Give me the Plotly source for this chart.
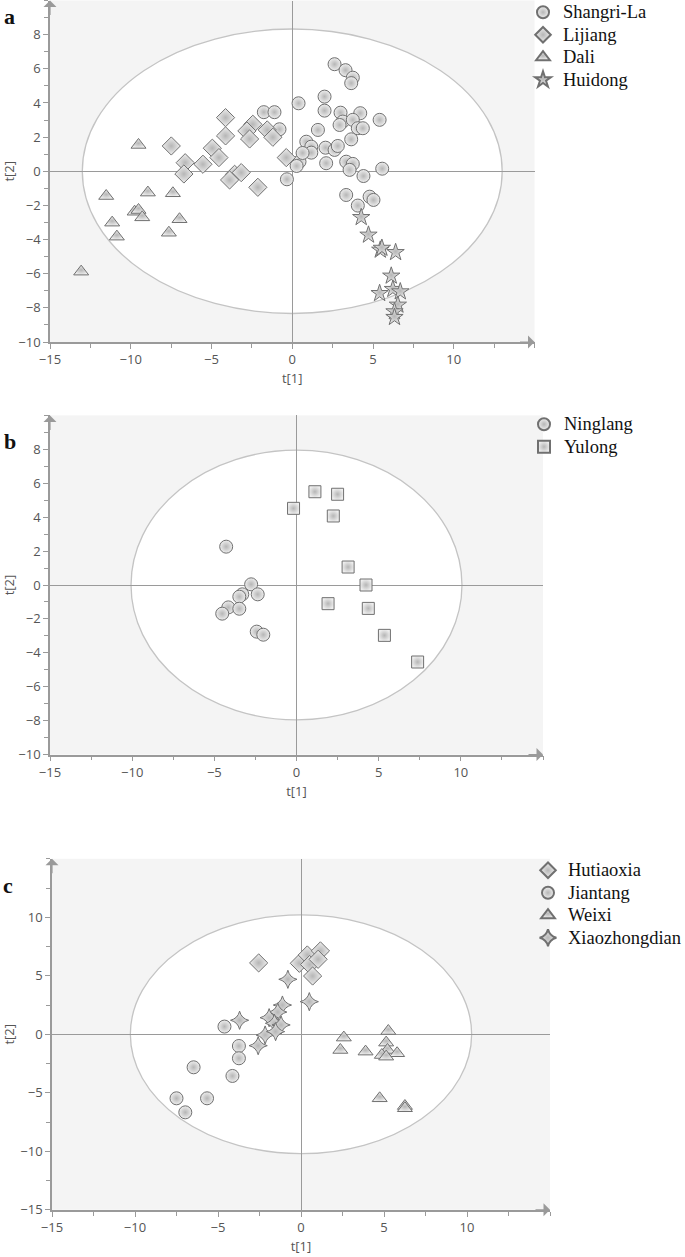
import plotly.graph_objects as go

# ---------------- Panel a data ----------------
shangri_x = [2.62, 3.30, 3.75, 3.65, 2.00, 0.39, -1.76, -1.10, 2.00, 2.99, 4.21, 5.41, 3.13, 3.75,
             4.06, 2.93, 3.65, 1.59, -0.79, 0.87, 1.18, 1.18, 2.06, 2.62, 2.82, 4.37, 0.45, 0.27,
             2.10, 3.34, 3.75, 3.55, 4.41, 5.57, -0.33, 3.34, 4.79, 5.03, 4.06, 0.64]
shangri_y = [6.27, 5.92, 5.48, 5.16, 4.37, 3.98, 3.46, 3.46, 3.55, 3.43, 3.40, 3.01, 2.91, 3.01,
             2.52, 2.71, 1.87, 2.42, 2.46, 1.73, 1.44, 1.09, 1.38, 1.25, 1.48, 2.52, 0.56, 0.31,
             0.47, 0.56, 0.43, 0.08, -0.28, 0.15, -0.47, -1.39, -1.49, -1.68, -2.01, 1.07]
lijiang_x = [-4.13, -4.13, -7.49, -4.95, -4.54, -5.53, -6.63, -6.71, -2.44, -2.81, -2.64, -1.55,
             -1.20, -0.37, -3.57, -3.16, -3.88, -2.13]
lijiang_y = [3.14, 2.07, 1.48, 1.35, 0.80, 0.41, 0.50, -0.16, 2.75, 2.36, 1.89, 2.42,
             1.99, 0.80, -0.18, -0.08, -0.51, -0.94]
dali_x = [-9.52, -11.52, -8.94, -7.39, -9.76, -9.52, -9.29, -11.15, -10.86, -6.98, -7.64, -13.07]
dali_y = [1.54, -1.45, -1.25, -1.29, -2.37, -2.27, -2.70, -3.01, -3.83, -2.81, -3.60, -5.88]
huidong_x = [4.27, 4.72, 5.45, 5.55, 6.40, 6.13, 5.41, 6.23, 6.69, 6.54, 6.33, 6.33]
huidong_y = [-2.70, -3.73, -4.61, -4.50, -4.75, -6.13, -7.15, -6.91, -7.05, -7.83, -8.22, -8.55]

# ---------------- Panel b data ----------------
ninglang_x = [-4.28, -2.76, -2.36, -3.30, -3.48, -4.15, -3.48, -4.52, -2.42, -2.02]
ninglang_y = [2.26, 0.04, -0.55, -0.55, -0.69, -1.32, -1.40, -1.69, -2.75, -2.93]
yulong_x = [-0.18, 1.12, 2.50, 2.24, 3.14, 4.23, 1.92, 4.37, 5.35, 7.37]
yulong_y = [4.52, 5.50, 5.35, 4.07, 1.06, 0.00, -1.10, -1.38, -2.97, -4.54]

# ---------------- Panel c data ----------------
hutiaoxia_x = [-2.55, -0.10, 0.38, 0.52, 1.17, 1.03, 0.70]
hutiaoxia_y = [6.10, 6.07, 6.78, 5.96, 7.13, 6.41, 4.98]
jiantang_x = [-4.61, -3.74, -3.74, -6.47, -4.13, -7.50, -5.66, -6.97]
jiantang_y = [0.66, -1.00, -2.05, -2.82, -3.56, -5.47, -5.47, -6.67]
weixi_x = [2.58, 5.26, 2.37, 3.89, 5.13, 5.21, 5.79, 4.87, 5.13, 4.74, 6.26, 6.26]
weixi_y = [-0.28, 0.28, -1.34, -1.48, -0.71, -1.34, -1.62, -1.77, -1.91, -5.47, -6.13, -6.32]
xzd_x = [-0.79, 0.50, -1.12, -1.40, -1.92, -1.60, -1.20, -3.70, -2.16, -1.53, -2.58]
xzd_y = [4.70, 2.79, 2.50, 1.90, 1.42, 0.94, 0.80, 1.20, -0.06, 0.23, -0.97]

# ellipse radii (Hotelling T2)
ell_a = (13.0, 8.33)
ell_b = (10.07, 7.95)
ell_c = (10.28, 10.2)

FILL = "#eeeeee"
EDGE = "#707070"
GRAD = "#b6b6b6"


def mk(symbol, size):
    return dict(symbol=symbol, size=size, color=FILL,
                gradient=dict(type="radial", color=GRAD),
                line=dict(color=EDGE, width=1))


def legname(s):
    return '<span style="font-size:18.5px">%s</span>' % s


fig = go.Figure()
series = [
    ("Shangri-La", shangri_x, shangri_y, "circle", 13, "x", "y", "legend"),
    ("Lijiang", lijiang_x, lijiang_y, "diamond", 14, "x", "y", "legend"),
    ("Dali", dali_x, dali_y, "triangle-up", 13, "x", "y", "legend"),
    ("Huidong", huidong_x, huidong_y, "star", 13, "x", "y", "legend"),
    ("Ninglang", ninglang_x, ninglang_y, "circle", 13, "x2", "y2", "legend2"),
    ("Yulong", yulong_x, yulong_y, "square", 12, "x2", "y2", "legend2"),
    ("Hutiaoxia", hutiaoxia_x, hutiaoxia_y, "diamond", 14, "x3", "y3", "legend3"),
    ("Jiantang", jiantang_x, jiantang_y, "circle", 13, "x3", "y3", "legend3"),
    ("Weixi", weixi_x, weixi_y, "triangle-up", 13, "x3", "y3", "legend3"),
    ("Xiaozhongdian", xzd_x, xzd_y, "star-diamond", 13, "x3", "y3", "legend3"),
]
for name, xs, ys, sym, sz, xa, ya, lg in series:
    fig.add_trace(go.Scatter(x=xs, y=ys, mode="markers", name=legname(name), marker=mk(sym, sz),
                             xaxis=xa, yaxis=ya, legend=lg, cliponaxis=False))

W, H = 685, 1257
AX = "#9a9a9a"
TICKFONT = dict(family="Open Sans", size=13, color="#555")


def xax(domain, anchor, title_standoff=7):
    return dict(domain=domain, anchor=anchor, range=[-15, 15], tickvals=[-15, -10, -5, 0, 5, 10],
                automargin=False,
                showgrid=False, zeroline=True, zerolinecolor=AX, zerolinewidth=1,
                showline=True, linecolor=AX, linewidth=1.5, ticks="outside", ticklen=5,
                tickcolor=AX, tickfont=TICKFONT,
                minor=dict(dtick=2.5, tick0=0, ticks="outside", ticklen=4, tickcolor=AX),
                title=dict(text="t[1]", font=dict(family="Open Sans", size=13, color="#555"),
                           standoff=title_standoff))


def yax(domain, anchor, rng, tickvals, minor_dt):
    return dict(domain=domain, anchor=anchor, range=rng, tickvals=tickvals,
                automargin=False,
                showgrid=False, zeroline=True, zerolinecolor=AX, zerolinewidth=1,
                showline=True, linecolor=AX, linewidth=1.5, ticks="outside", ticklen=5,
                tickcolor=AX, tickfont=TICKFONT,
                minor=dict(dtick=minor_dt, tick0=0, ticks="outside", ticklen=4, tickcolor=AX),
                title=dict(text="t[2]", font=dict(family="Open Sans", size=13, color="#555"),
                           standoff=4))


def px_dom_x(a, b):
    return [a / W, b / W]


def px_dom_y(top, bottom):
    return [1 - bottom / H, 1 - top / H]


LEGFONT = dict(family="Liberation Serif", size=15, color="#111")
fig.update_layout(
    width=W, height=H, margin=dict(l=0, r=0, t=0, b=0, autoexpand=False),
    paper_bgcolor="white", plot_bgcolor="#f4f4f4",
    xaxis=xax(px_dom_x(50, 534.5), "y"),
    yaxis=yax(px_dom_y(0.5, 342), "x", [-10, 10], list(range(-10, 10, 2)), 1),
    xaxis2=xax(px_dom_x(50, 543), "y2"),
    yaxis2=yax(px_dom_y(415.4, 754.6), "x2", [-10, 10], list(range(-10, 10, 2)), 1),
    xaxis3=xax(px_dom_x(52, 550), "y3"),
    yaxis3=yax(px_dom_y(858.8, 1209.8), "x3", [-15, 15], [-15, -10, -5, 0, 5, 10], 2.5),
    legend=dict(x=523 / W, y=1 + 4 / H, xanchor="left", yanchor="top", bgcolor="rgba(0,0,0,0)",
                font=LEGFONT, itemsizing="constant"),
    legend2=dict(x=524 / W, y=1 - 408 / H, xanchor="left", yanchor="top", bgcolor="rgba(0,0,0,0)",
                 font=LEGFONT, itemsizing="constant"),
    legend3=dict(x=528 / W, y=1 - 854 / H, xanchor="left", yanchor="top", bgcolor="rgba(0,0,0,0)",
                 font=LEGFONT, itemsizing="constant"),
    showlegend=True,
)

shapes = []
for (rx, ry), xr, yr in [(ell_a, "x", "y"), (ell_b, "x2", "y2"), (ell_c, "x3", "y3")]:
    shapes.append(dict(type="circle", xref=xr, yref=yr, x0=-rx, x1=rx, y0=-ry, y1=ry,
                       fillcolor="white", line=dict(color="#c4c4c4", width=1.3), layer="below"))
fig.update_layout(shapes=shapes)

annots = []
for xr, yr, ytop, ybot in [("x", "y", 10, -10), ("x2", "y2", 10, -10), ("x3", "y3", 15, -15)]:
    annots.append(dict(xref=xr, yref=yr, x=-15, y=ytop, ax=0, ay=16, text="", showarrow=True,
                       arrowhead=1, arrowsize=1.8, arrowwidth=1.2, arrowcolor=AX))
    annots.append(dict(xref=xr, yref=yr, x=15, y=ybot, ax=-16, ay=0, text="", showarrow=True,
                       arrowhead=1, arrowsize=1.8, arrowwidth=1.2, arrowcolor=AX))
for letter, xp, yp in [("a", 9, 17), ("b", 10, 441), ("c", 8, 885)]:
    annots.append(dict(xref="paper", yref="paper", x=xp / W, y=1 - yp / H, text="<b>%s</b>" % letter,
                       showarrow=False, font=dict(family="Liberation Serif", size=22, color="#111"),
                       xanchor="center", yanchor="middle"))
fig.update_layout(annotations=annots)

fig.write_html("out.html", config={"displayModeBar": False},
               post_script="document.body.style.margin='0px';")
